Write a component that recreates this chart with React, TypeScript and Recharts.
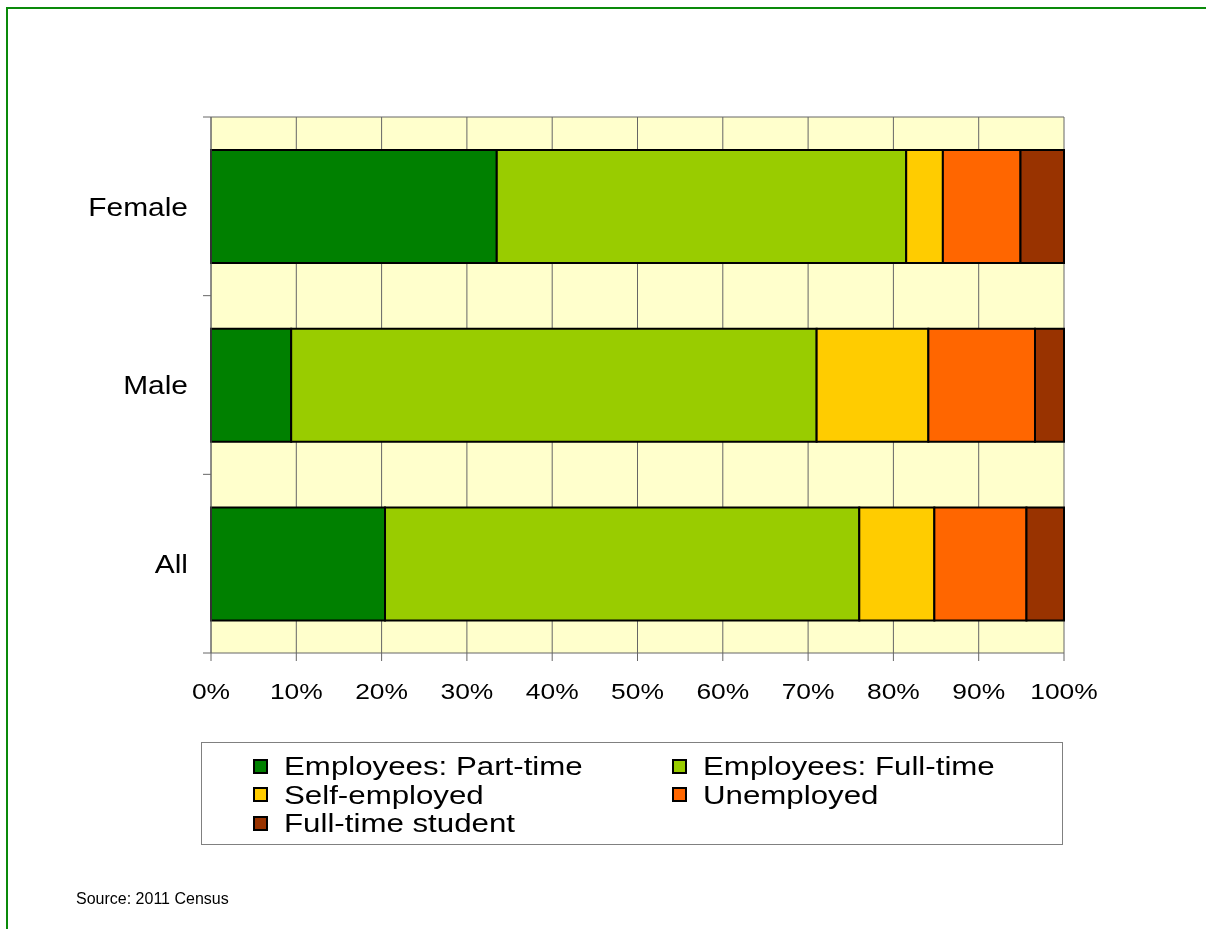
import React from 'react';
import { BarChart, Bar, XAxis, YAxis, CartesianGrid } from 'recharts';

const groups = ['Female', 'Male', 'All'];
const partTime = [33.5, 9.4, 20.4];
const fullTime = [48.0, 61.6, 55.6];
const selfEmployed = [4.3, 13.1, 8.8];
const unemployed = [9.1, 12.5, 10.8];
const student = [5.1, 3.4, 4.4];
const xTicks = [0, 10, 20, 30, 40, 50, 60, 70, 80, 90, 100];

const series = [
  { key: 'partTime', name: 'Employees: Part-time', color: '#008000', values: partTime },
  { key: 'fullTime', name: 'Employees: Full-time', color: '#99CC00', values: fullTime },
  { key: 'selfEmployed', name: 'Self-employed', color: '#FFCC00', values: selfEmployed },
  { key: 'unemployed', name: 'Unemployed', color: '#FF6600', values: unemployed },
  { key: 'student', name: 'Full-time student', color: '#993300', values: student },
];

const data = groups.map((name, i) => {
  const row: Record<string, string | number> = { name };
  series.forEach(s => {
    row[s.key] = s.values[i];
  });
  return row;
});

const font = '"Liberation Sans", Arial, sans-serif';
const CAT_MARGIN = 23;
const EDGE_TICK = 8;

// stretched tick text, the original renders text a bit wide
function XTick(props: any) {
  const { x, y, payload } = props;
  return (
    <text
      transform={`translate(${x},${y}) scale(1.2,1)`}
      textAnchor="middle"
      dy="0.71em"
      fontSize={22}
      fontFamily={font}
      fill="#000"
    >
      {`${payload.value}%`}
    </text>
  );
}

// category label plus the tick marks that sit on the band edges (Excel style)
function CatTick(props: any) {
  const { x, y, payload, index, visibleTicksCount, height } = props;
  const half = payload.offset || height / visibleTicksCount / 2;
  const axisX = x + CAT_MARGIN;
  return (
    <g>
      <line x1={axisX - EDGE_TICK} x2={axisX} y1={y - half} y2={y - half} stroke="#666" />
      {index === visibleTicksCount - 1 && (
        <line x1={axisX - EDGE_TICK} x2={axisX} y1={y + half} y2={y + half} stroke="#666" />
      )}
      <text
        transform={`translate(${x},${y}) scale(1.15,1)`}
        textAnchor="end"
        dy="0.355em"
        fontSize={26}
        fontFamily={font}
        fill="#000"
      >
        {payload.value}
      </text>
    </g>
  );
}

export default function App() {
  return (
    <div
      style={{
        position: 'fixed',
        left: 6,
        top: 7,
        width: 1400,
        height: 1100,
        borderTop: '2px solid #0a8a0a',
        borderLeft: '2px solid #0a8a0a',
        fontFamily: font,
      }}
    >
      <div style={{ position: 'absolute', left: 0, top: 0 }}>
        <BarChart
          width={1106}
          height={700}
          data={data}
          layout="vertical"
          margin={{ top: 108, right: 50, bottom: 0, left: 0 }}
          barCategoryGap="18.5%"
        >
          <CartesianGrid
            fill="#FFFFCC"
            fillOpacity={1}
            stroke="#666"
            strokeWidth={1}
            horizontalCoordinatesGenerator={(p: any) => [p.offset.top]}
          />
          <XAxis
            type="number"
            domain={[0, 100]}
            ticks={xTicks}
            interval={0}
            tick={<XTick />}
            tickSize={8}
            tickMargin={22}
            height={56}
            axisLine={{ stroke: '#666' }}
            tickLine={{ stroke: '#666' }}
          />
          <YAxis
            type="category"
            dataKey="name"
            width={203}
            axisLine={{ stroke: '#666' }}
            tickLine={false}
            tickSize={0}
            tickMargin={CAT_MARGIN}
            interval={0}
            tick={<CatTick />}
          />
          {series.map(s => (
            <Bar
              key={s.key}
              dataKey={s.key}
              name={s.name}
              stackId="a"
              fill={s.color}
              stroke="#000"
              strokeWidth={2}
              isAnimationActive={false}
            />
          ))}
        </BarChart>
      </div>
      <div
        style={{
          position: 'absolute',
          left: 193,
          top: 733,
          width: 862,
          height: 103,
          border: '1px solid #808080',
          boxSizing: 'border-box',
        }}
      >
        {series.map((s, i) => (
          <div
            key={s.key}
            style={{
              position: 'absolute',
              left: i % 2 === 0 ? 51 : 470,
              top: 9 + Math.floor(i / 2) * 28.5,
              display: 'flex',
              alignItems: 'center',
              fontSize: 25,
              lineHeight: '28px',
              color: '#000',
              whiteSpace: 'nowrap',
            }}
          >
            <span
              style={{
                display: 'inline-block',
                width: 11,
                height: 11,
                background: s.color,
                border: '2px solid #000',
                marginRight: 16,
              }}
            />
            <span style={{ display: 'inline-block', transform: 'scaleX(1.25)', transformOrigin: 'left center' }}>
              {s.name}
            </span>
          </div>
        ))}
      </div>
      <div style={{ position: 'absolute', left: 68, top: 881, fontSize: 16, color: '#000' }}>
        Source: 2011 Census
      </div>
    </div>
  );
}
